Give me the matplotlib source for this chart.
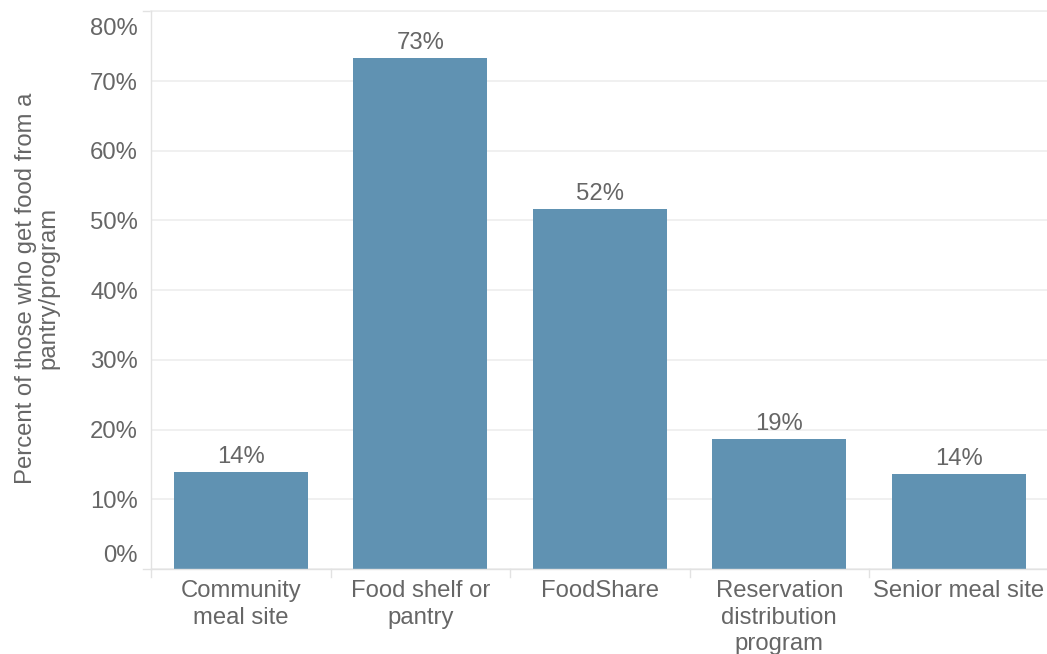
import matplotlib
matplotlib.use("Agg")
import matplotlib.pyplot as plt
from matplotlib.lines import Line2D
from matplotlib.transforms import ScaledTranslation

categories = ["Community\nmeal site", "Food shelf or\npantry", "FoodShare",
              "Reservation\ndistribution\nprogram", "Senior meal site"]
values = [13.9, 73.3, 51.6, 18.6, 13.6]
y_ticks = [0, 10, 20, 30, 40, 50, 60, 70, 80]
y_label = "Percent of those who get food from a\npantry/program"

plt.rcParams["font.family"] = ["Liberation Sans", "DejaVu Sans"]

W, H = 1047, 654
fig = plt.figure(figsize=(W / 100, H / 100), dpi=100)
ax = fig.add_axes([151 / W, 85 / H, 897.5 / W, 557.6 / H])

bar_color = "#6092b2"
text_color = "#666666"
grid_color = "#eeeeee"
axis_color = "#e2e2e2"
fs = 17.2

x = list(range(len(categories)))
ax.bar(x, values, width=0.748, color=bar_color, edgecolor="none", zorder=2)
for xi, v in zip(x, values):
    ax.annotate(f"{v:.0f}%", (xi, v), xytext=(0, 3), textcoords="offset points",
                ha="center", va="bottom", fontsize=fs, color=text_color)

ax.set_xlim(-0.5, len(categories) - 0.5)
ax.set_ylim(0, 80)

ax.set_yticks(y_ticks)
ax.set_yticklabels([f"{t}%" for t in y_ticks])
ax.tick_params(axis="y", length=0, pad=9.5, labelsize=fs, labelcolor=text_color)
ylabels = ax.get_yticklabels()
# keep the end labels inside the plot's vertical extent
ylabels[0].set_transform(ylabels[0].get_transform()
                         + ScaledTranslation(0, 0.15, fig.dpi_scale_trans))
ylabels[-1].set_transform(ylabels[-1].get_transform()
                          + ScaledTranslation(0, -0.15, fig.dpi_scale_trans))
ax.yaxis.grid(True, color=grid_color, linewidth=1.2, zorder=0)

ax.set_xticks(x)
ax.set_xticklabels(categories, linespacing=1.27)
ax.tick_params(axis="x", length=0, pad=8, labelsize=fs, labelcolor=text_color)

for side in ["top", "right"]:
    ax.spines[side].set_visible(False)
ax.spines["left"].set_color(axis_color)
ax.spines["bottom"].set_color(axis_color)
ax.spines["left"].set_linewidth(1.0)
ax.spines["bottom"].set_linewidth(1.0)

# category divider ticks below the baseline and short extensions at the left
trans = ax.get_xaxis_transform()
for b in [i - 0.5 for i in range(len(categories) + 1)]:
    ax.add_line(Line2D([b, b], [0, -8 / 557.6], transform=trans, color=axis_color,
                       linewidth=1.0, clip_on=False))
for yv in (0, 1):
    ax.add_line(Line2D([-8 / 897.5, 0], [yv, yv], transform=ax.transAxes,
                       color=axis_color, linewidth=1.0, clip_on=False))
ax.add_line(Line2D([0, 1], [1, 1], transform=ax.transAxes, color=grid_color,
                   linewidth=1.2, clip_on=False))

fig.text(37 / W, 1 - 288 / H, y_label, rotation=90, ha="center", va="center",
         fontsize=fs, color=text_color, multialignment="center", linespacing=1.0)

fig.savefig("out.png", dpi=100, facecolor="white")
